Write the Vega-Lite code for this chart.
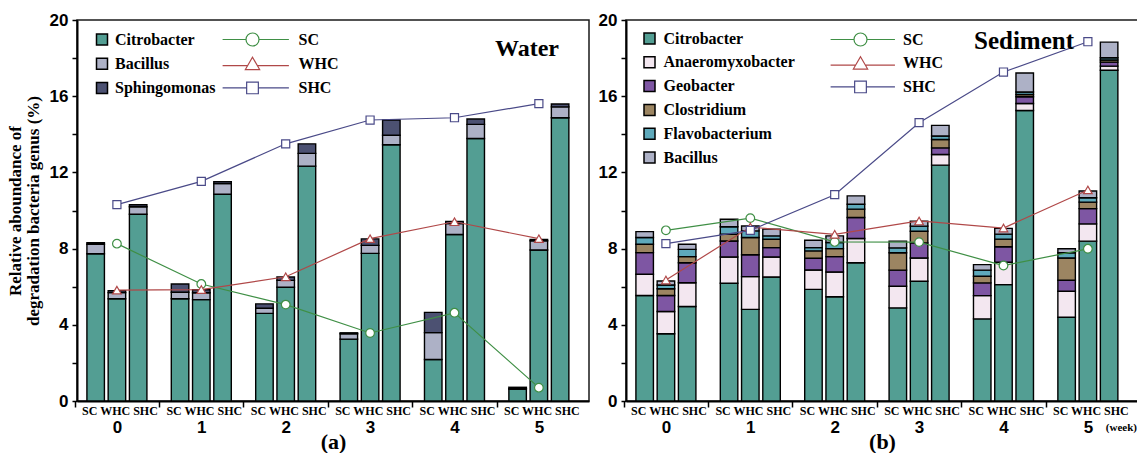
{
  "$schema": "https://vega.github.io/schema/vega-lite/v6.json",
  "padding": {"left": 5, "top": 10, "right": 0, "bottom": 0},
  "autosize": {"type": "pad"},
  "spacing": 7,
  "config": {
    "view": {"stroke": "#1a1a1a", "strokeWidth": 1.5},
    "axis": {"grid": false, "domainColor": "black", "domainWidth": 2, "tickColor": "black", "tickWidth": 1.5, "labelColor": "black", "labelFont": "Liberation Sans", "labelFontWeight": "bold", "titleColor": "black", "titleFont": "Liberation Serif", "titleFontWeight": "bold"}
  },
  "datasets": {
    "wa": [
      {"week": 0, "trt": "SC", "Citrobacter": 7.73, "Bacillus": 0.5, "Sphingomonas": 0.08},
      {"week": 0, "trt": "WHC", "Citrobacter": 5.37, "Bacillus": 0.32, "Sphingomonas": 0.1},
      {"week": 0, "trt": "SHC", "Citrobacter": 9.8, "Bacillus": 0.4, "Sphingomonas": 0.1},
      {"week": 1, "trt": "SC", "Citrobacter": 5.37, "Bacillus": 0.34, "Sphingomonas": 0.43},
      {"week": 1, "trt": "WHC", "Citrobacter": 5.32, "Bacillus": 0.36, "Sphingomonas": 0.16},
      {"week": 1, "trt": "SHC", "Citrobacter": 10.85, "Bacillus": 0.56, "Sphingomonas": 0.1},
      {"week": 2, "trt": "SC", "Citrobacter": 4.6, "Bacillus": 0.27, "Sphingomonas": 0.23},
      {"week": 2, "trt": "WHC", "Citrobacter": 5.97, "Bacillus": 0.36, "Sphingomonas": 0.18},
      {"week": 2, "trt": "SHC", "Citrobacter": 12.33, "Bacillus": 0.67, "Sphingomonas": 0.5},
      {"week": 3, "trt": "SC", "Citrobacter": 3.25, "Bacillus": 0.28, "Sphingomonas": 0.05},
      {"week": 3, "trt": "WHC", "Citrobacter": 7.75, "Bacillus": 0.42, "Sphingomonas": 0.34},
      {"week": 3, "trt": "SHC", "Citrobacter": 13.45, "Bacillus": 0.5, "Sphingomonas": 0.8},
      {"week": 4, "trt": "SC", "Citrobacter": 2.18, "Bacillus": 1.41, "Sphingomonas": 1.06},
      {"week": 4, "trt": "WHC", "Citrobacter": 8.74, "Bacillus": 0.57, "Sphingomonas": 0.12},
      {"week": 4, "trt": "SHC", "Citrobacter": 13.78, "Bacillus": 0.74, "Sphingomonas": 0.28},
      {"week": 5, "trt": "SC", "Citrobacter": 0.62, "Bacillus": 0.03, "Sphingomonas": 0.07},
      {"week": 5, "trt": "WHC", "Citrobacter": 7.93, "Bacillus": 0.48, "Sphingomonas": 0.07},
      {"week": 5, "trt": "SHC", "Citrobacter": 14.87, "Bacillus": 0.57, "Sphingomonas": 0.15}
    ],
    "la": [
      {"week": 0, "trt": "SC", "v": 8.26}, {"week": 1, "trt": "SC", "v": 6.14}, {"week": 2, "trt": "SC", "v": 5.06},
      {"week": 3, "trt": "SC", "v": 3.57}, {"week": 4, "trt": "SC", "v": 4.63}, {"week": 5, "trt": "SC", "v": 0.7},
      {"week": 0, "trt": "WHC", "v": 5.82}, {"week": 1, "trt": "WHC", "v": 5.85}, {"week": 2, "trt": "WHC", "v": 6.52},
      {"week": 3, "trt": "WHC", "v": 8.52}, {"week": 4, "trt": "WHC", "v": 9.41}, {"week": 5, "trt": "WHC", "v": 8.52},
      {"week": 0, "trt": "SHC", "v": 10.31}, {"week": 1, "trt": "SHC", "v": 11.53}, {"week": 2, "trt": "SHC", "v": 13.5},
      {"week": 3, "trt": "SHC", "v": 14.75}, {"week": 4, "trt": "SHC", "v": 14.87}, {"week": 5, "trt": "SHC", "v": 15.61}
    ],
    "wb": [
      {"week": 0, "trt": "SC", "Citrobacter": 5.54, "Anaeromyxobacter": 1.11, "Geobacter": 1.14, "Clostridium": 0.44, "Flavobacterium": 0.35, "Bacillus": 0.31},
      {"week": 0, "trt": "WHC", "Citrobacter": 3.53, "Anaeromyxobacter": 1.17, "Geobacter": 0.84, "Clostridium": 0.35, "Flavobacterium": 0.2, "Bacillus": 0.21},
      {"week": 0, "trt": "SHC", "Citrobacter": 4.96, "Anaeromyxobacter": 1.25, "Geobacter": 1.05, "Clostridium": 0.32, "Flavobacterium": 0.38, "Bacillus": 0.27},
      {"week": 1, "trt": "SC", "Citrobacter": 6.18, "Anaeromyxobacter": 1.38, "Geobacter": 0.84, "Clostridium": 0.35, "Flavobacterium": 0.4, "Bacillus": 0.39},
      {"week": 1, "trt": "WHC", "Citrobacter": 4.81, "Anaeromyxobacter": 1.72, "Geobacter": 1.15, "Clostridium": 0.9, "Flavobacterium": 0.35, "Bacillus": 0.26},
      {"week": 1, "trt": "SHC", "Citrobacter": 6.51, "Anaeromyxobacter": 1.05, "Geobacter": 0.49, "Clostridium": 0.44, "Flavobacterium": 0.18, "Bacillus": 0.35},
      {"week": 2, "trt": "SC", "Citrobacter": 5.86, "Anaeromyxobacter": 1.02, "Geobacter": 0.61, "Clostridium": 0.39, "Flavobacterium": 0.17, "Bacillus": 0.39},
      {"week": 2, "trt": "WHC", "Citrobacter": 5.47, "Anaeromyxobacter": 1.3, "Geobacter": 0.81, "Clostridium": 0.42, "Flavobacterium": 0.32, "Bacillus": 0.35},
      {"week": 2, "trt": "SHC", "Citrobacter": 7.26, "Anaeromyxobacter": 1.27, "Geobacter": 1.1, "Clostridium": 0.44, "Flavobacterium": 0.26, "Bacillus": 0.44},
      {"week": 3, "trt": "SC", "Citrobacter": 4.89, "Anaeromyxobacter": 1.13, "Geobacter": 0.85, "Clostridium": 0.91, "Flavobacterium": 0.26, "Bacillus": 0.35},
      {"week": 3, "trt": "WHC", "Citrobacter": 6.29, "Anaeromyxobacter": 1.22, "Geobacter": 0.79, "Clostridium": 0.61, "Flavobacterium": 0.27, "Bacillus": 0.26},
      {"week": 3, "trt": "SHC", "Citrobacter": 12.38, "Anaeromyxobacter": 0.56, "Geobacter": 0.35, "Clostridium": 0.44, "Flavobacterium": 0.18, "Bacillus": 0.56},
      {"week": 4, "trt": "SC", "Citrobacter": 4.31, "Anaeromyxobacter": 1.22, "Geobacter": 0.67, "Clostridium": 0.35, "Flavobacterium": 0.32, "Bacillus": 0.29},
      {"week": 4, "trt": "WHC", "Citrobacter": 6.11, "Anaeromyxobacter": 1.17, "Geobacter": 0.82, "Clostridium": 0.4, "Flavobacterium": 0.26, "Bacillus": 0.3},
      {"week": 4, "trt": "SHC", "Citrobacter": 15.25, "Anaeromyxobacter": 0.37, "Geobacter": 0.35, "Clostridium": 0.12, "Flavobacterium": 0.13, "Bacillus": 1.0},
      {"week": 5, "trt": "SC", "Citrobacter": 4.4, "Anaeromyxobacter": 1.36, "Geobacter": 0.58, "Clostridium": 1.17, "Flavobacterium": 0.27, "Bacillus": 0.21},
      {"week": 5, "trt": "WHC", "Citrobacter": 8.39, "Anaeromyxobacter": 0.91, "Geobacter": 0.8, "Clostridium": 0.34, "Flavobacterium": 0.23, "Bacillus": 0.35},
      {"week": 5, "trt": "SHC", "Citrobacter": 17.36, "Anaeromyxobacter": 0.22, "Geobacter": 0.21, "Clostridium": 0.11, "Flavobacterium": 0.12, "Bacillus": 0.82}
    ],
    "lb": [
      {"week": 0, "trt": "SC", "v": 8.96}, {"week": 1, "trt": "SC", "v": 9.6}, {"week": 2, "trt": "SC", "v": 8.35},
      {"week": 3, "trt": "SC", "v": 8.34}, {"week": 4, "trt": "SC", "v": 7.11}, {"week": 5, "trt": "SC", "v": 7.99},
      {"week": 0, "trt": "WHC", "v": 6.35}, {"week": 1, "trt": "WHC", "v": 9.13}, {"week": 2, "trt": "WHC", "v": 8.75},
      {"week": 3, "trt": "WHC", "v": 9.45}, {"week": 4, "trt": "WHC", "v": 9.08}, {"week": 5, "trt": "WHC", "v": 11.08},
      {"week": 0, "trt": "SHC", "v": 8.26}, {"week": 1, "trt": "SHC", "v": 8.96}, {"week": 2, "trt": "SHC", "v": 10.83},
      {"week": 3, "trt": "SHC", "v": 14.61}, {"week": 4, "trt": "SHC", "v": 17.27}, {"week": 5, "trt": "SHC", "v": 18.86}
    ]
  },
  "resolve": {
    "scale": {"x": "independent", "y": "independent", "xOffset": "independent", "color": "independent", "stroke": "independent"},
    "legend": {"color": "independent", "stroke": "independent"}
  },
  "hconcat": [
    {
      "width": 512,
      "height": 381,
      "title": {"text": "Water", "anchor": "end", "offset": -50, "dx": -30, "fontSize": 24, "font": "Liberation Serif", "fontWeight": "bold", "color": "black"},
      "encoding": {
        "x": {"field": "week", "type": "ordinal", "scale": {"paddingInner": 0.289, "paddingOuter": 0.178, "align": 0.33},
          "axis": {"title": "(a)", "labelAngle": 0, "labelFontSize": 17, "labelPadding": 12, "tickSize": 6, "tickOffset": -42.2, "labelOffset": 42.2, "titlePadding": -4, "titleFontSize": 22}},
        "y": {"field": "v", "type": "quantitative", "scale": {"domain": [0, 20], "nice": false},
          "axis": {"values": [0, 2, 4, 6, 8, 10, 12, 14, 16, 18, 20], "labelExpr": "datum.value % 4 === 0 ? datum.label : ''", "labelFontSize": 17, "tickSize": 5, "labelPadding": 4, "title": ["Relative aboundance of", "degradation bacteria genus (%)"], "titleFontSize": 17, "titleLineHeight": 18, "titlePadding": 7}}
      },
      "layer": [
        {
          "data": {"name": "wa"},
          "transform": [
            {"fold": ["Citrobacter", "Bacillus", "Sphingomonas"], "as": ["genus", "v"]},
            {"calculate": "indexof(['Citrobacter','Bacillus','Sphingomonas'], datum.genus)", "as": "ord"}
          ],
          "mark": {"type": "bar", "stroke": "black", "strokeWidth": 1.4},
          "encoding": {
            "xOffset": {"field": "trt", "type": "nominal", "scale": {"domain": ["SC", "WHC", "SHC"], "paddingInner": 0.176, "paddingOuter": 0}},
            "y": {"field": "v", "type": "quantitative", "stack": "zero"},
            "color": {"field": "genus", "type": "nominal",
              "scale": {"domain": ["Citrobacter", "Bacillus", "Sphingomonas"], "range": ["#539e93", "#adb1c6", "#4c5172"]},
              "legend": {"title": null, "orient": "none", "legendX": 17, "legendY": 11.5, "padding": 0, "symbolType": "square", "symbolSize": 121, "symbolStrokeColor": "black", "symbolStrokeWidth": 1.5, "symbolOpacity": 1, "labelFont": "Liberation Serif", "labelFontWeight": "bold", "labelFontSize": 16, "labelColor": "black", "labelOffset": 5, "rowPadding": 6.2}},
            "order": {"field": "ord", "type": "quantitative"}
          }
        },
        {
          "data": {"name": "la"},
          "transform": [{"filter": "datum.trt === 'WHC'"}],
          "mark": {"type": "text", "text": "SC WHC SHC", "baseline": "top", "dy": 5, "dx": 3, "fontSize": 12, "fontWeight": "bold", "font": "Liberation Serif", "color": "black"},
          "encoding": {"y": {"datum": 0}}
        },
        {
          "data": {"name": "la"},
          "mark": {"type": "line", "strokeWidth": 1.2},
          "encoding": {
            "stroke": {"field": "trt", "type": "nominal",
              "scale": {"domain": ["SC", "WHC", "SHC"], "range": ["#3f8f45", "#b04848", "#4a4a88"]},
              "legend": {"title": null, "orient": "none", "legendX": 167.5, "legendY": 11.5, "padding": 0, "symbolSize": 169, "symbolStrokeWidth": 1.2, "labelFont": "Liberation Serif", "labelFontWeight": "bold", "labelFontSize": 16, "labelColor": "black", "labelOffset": 38, "rowPadding": 6.2,
                "encoding": {"symbols": {"shape": {"value": {"expr": "datum.value === 'SC' ? 'M-4.6,0L-1,0M1,0L5.6,0M-1,0A1,1,0,1,0,1,0A1,1,0,1,0,-1,0Z' : datum.value === 'WHC' ? 'M-4.6,0.3L-0.75,0.3M0.75,0.3L5.6,0.3M0,-1L1.1,0.9L-1.1,0.9Z' : 'M-4.6,0L-0.9,0M0.9,0L5.6,0M-0.9,-0.9L0.9,-0.9L0.9,0.9L-0.9,0.9Z'"}}, "fill": {"value": "white"}, "opacity": {"value": 1}, "strokeWidth": {"value": 1.2}}}}}
          }
        },
        {
          "data": {"name": "la"},
          "transform": [{"filter": "datum.trt === 'SC'"}],
          "mark": {"type": "point", "shape": "circle", "filled": true, "fill": "white", "stroke": "#3f8f45", "strokeWidth": 1.2, "size": 75, "opacity": 1}
        },
        {
          "data": {"name": "la"},
          "transform": [{"filter": "datum.trt === 'WHC'"}],
          "mark": {"type": "point", "shape": "triangle-up", "filled": true, "fill": "white", "stroke": "#b04848", "strokeWidth": 1.2, "size": 75, "opacity": 1}
        },
        {
          "data": {"name": "la"},
          "transform": [{"filter": "datum.trt === 'SHC'"}],
          "mark": {"type": "point", "shape": "square", "filled": true, "fill": "white", "stroke": "#4a4a88", "strokeWidth": 1.2, "size": 65, "opacity": 1}
        }
      ]
    },
    {
      "width": 512,
      "height": 381,
      "title": {"text": "Sediment", "anchor": "end", "offset": -43, "dx": -64, "fontSize": 25, "font": "Liberation Serif", "fontWeight": "bold", "color": "black"},
      "encoding": {
        "x": {"field": "week", "type": "ordinal", "scale": {"paddingInner": 0.289, "paddingOuter": 0.178, "align": 0.33},
          "axis": {"title": "(b)", "labelAngle": 0, "labelFontSize": 17, "labelPadding": 12, "tickSize": 6, "tickOffset": -42.2, "labelOffset": 42.2, "titlePadding": -4, "titleFontSize": 22}},
        "y": {"field": "v", "type": "quantitative", "scale": {"domain": [0, 20], "nice": false},
          "axis": {"values": [0, 2, 4, 6, 8, 10, 12, 14, 16, 18, 20], "labelExpr": "datum.value % 4 === 0 ? datum.label : ''", "labelFontSize": 17, "tickSize": 5, "labelPadding": 4, "title": null}}
      },
      "layer": [
        {
          "data": {"name": "wb"},
          "transform": [
            {"fold": ["Citrobacter", "Anaeromyxobacter", "Geobacter", "Clostridium", "Flavobacterium", "Bacillus"], "as": ["genus", "v"]},
            {"calculate": "indexof(['Citrobacter','Anaeromyxobacter','Geobacter','Clostridium','Flavobacterium','Bacillus'], datum.genus)", "as": "ord"}
          ],
          "mark": {"type": "bar", "stroke": "black", "strokeWidth": 1.4},
          "encoding": {
            "xOffset": {"field": "trt", "type": "nominal", "scale": {"domain": ["SC", "WHC", "SHC"], "paddingInner": 0.176, "paddingOuter": 0}},
            "y": {"field": "v", "type": "quantitative", "stack": "zero"},
            "color": {"field": "genus", "type": "nominal",
              "scale": {"domain": ["Citrobacter", "Anaeromyxobacter", "Geobacter", "Clostridium", "Flavobacterium", "Bacillus"], "range": ["#539e93", "#f3e7f0", "#7e56a3", "#9c8562", "#5ea9bb", "#adb1c6"]},
              "legend": {"title": null, "orient": "none", "legendX": 15.5, "legendY": 10.5, "padding": 0, "symbolType": "square", "symbolSize": 121, "symbolStrokeColor": "black", "symbolStrokeWidth": 1.5, "symbolOpacity": 1, "labelFont": "Liberation Serif", "labelFontWeight": "bold", "labelFontSize": 16, "labelColor": "black", "labelOffset": 6, "rowPadding": 5.8}},
            "order": {"field": "ord", "type": "quantitative"}
          }
        },
        {
          "data": {"name": "lb"},
          "transform": [{"filter": "datum.trt === 'WHC'"}],
          "mark": {"type": "text", "text": "SC WHC SHC", "baseline": "top", "dy": 5, "dx": 3, "fontSize": 12, "fontWeight": "bold", "font": "Liberation Serif", "color": "black"},
          "encoding": {"y": {"datum": 0}}
        },
        {
          "data": {"name": "lb"},
          "transform": [{"filter": "datum.trt === 'SHC' && datum.week === 5"}],
          "mark": {"type": "text", "text": "(week)", "baseline": "top", "align": "left", "dx": 18, "dy": 21, "fontSize": 11, "fontWeight": "bold", "font": "Liberation Serif", "color": "black"},
          "encoding": {"y": {"datum": 0}}
        },
        {
          "data": {"name": "lb"},
          "mark": {"type": "line", "strokeWidth": 1.2},
          "encoding": {
            "stroke": {"field": "trt", "type": "nominal",
              "scale": {"domain": ["SC", "WHC", "SHC"], "range": ["#3f8f45", "#b04848", "#4a4a88"]},
              "legend": {"title": null, "orient": "none", "legendX": 226.5, "legendY": 11.5, "padding": 0, "symbolSize": 169, "symbolStrokeWidth": 1.2, "labelFont": "Liberation Serif", "labelFontWeight": "bold", "labelFontSize": 16, "labelColor": "black", "labelOffset": 34.5, "rowPadding": 5.7,
                "encoding": {"symbols": {"shape": {"value": {"expr": "datum.value === 'SC' ? 'M-4.6,0L-1,0M1,0L5.3,0M-1,0A1,1,0,1,0,1,0A1,1,0,1,0,-1,0Z' : datum.value === 'WHC' ? 'M-4.6,0.3L-0.75,0.3M0.75,0.3L5.3,0.3M0,-1L1.1,0.9L-1.1,0.9Z' : 'M-4.6,0L-0.9,0M0.9,0L5.3,0M-0.9,-0.9L0.9,-0.9L0.9,0.9L-0.9,0.9Z'"}}, "fill": {"value": "white"}, "opacity": {"value": 1}, "strokeWidth": {"value": 1.2}}}}}
          }
        },
        {
          "data": {"name": "lb"},
          "transform": [{"filter": "datum.trt === 'SC'"}],
          "mark": {"type": "point", "shape": "circle", "filled": true, "fill": "white", "stroke": "#3f8f45", "strokeWidth": 1.2, "size": 75, "opacity": 1}
        },
        {
          "data": {"name": "lb"},
          "transform": [{"filter": "datum.trt === 'WHC'"}],
          "mark": {"type": "point", "shape": "triangle-up", "filled": true, "fill": "white", "stroke": "#b04848", "strokeWidth": 1.2, "size": 75, "opacity": 1}
        },
        {
          "data": {"name": "lb"},
          "transform": [{"filter": "datum.trt === 'SHC'"}],
          "mark": {"type": "point", "shape": "square", "filled": true, "fill": "white", "stroke": "#4a4a88", "strokeWidth": 1.2, "size": 65, "opacity": 1}
        }
      ]
    }
  ]
}
